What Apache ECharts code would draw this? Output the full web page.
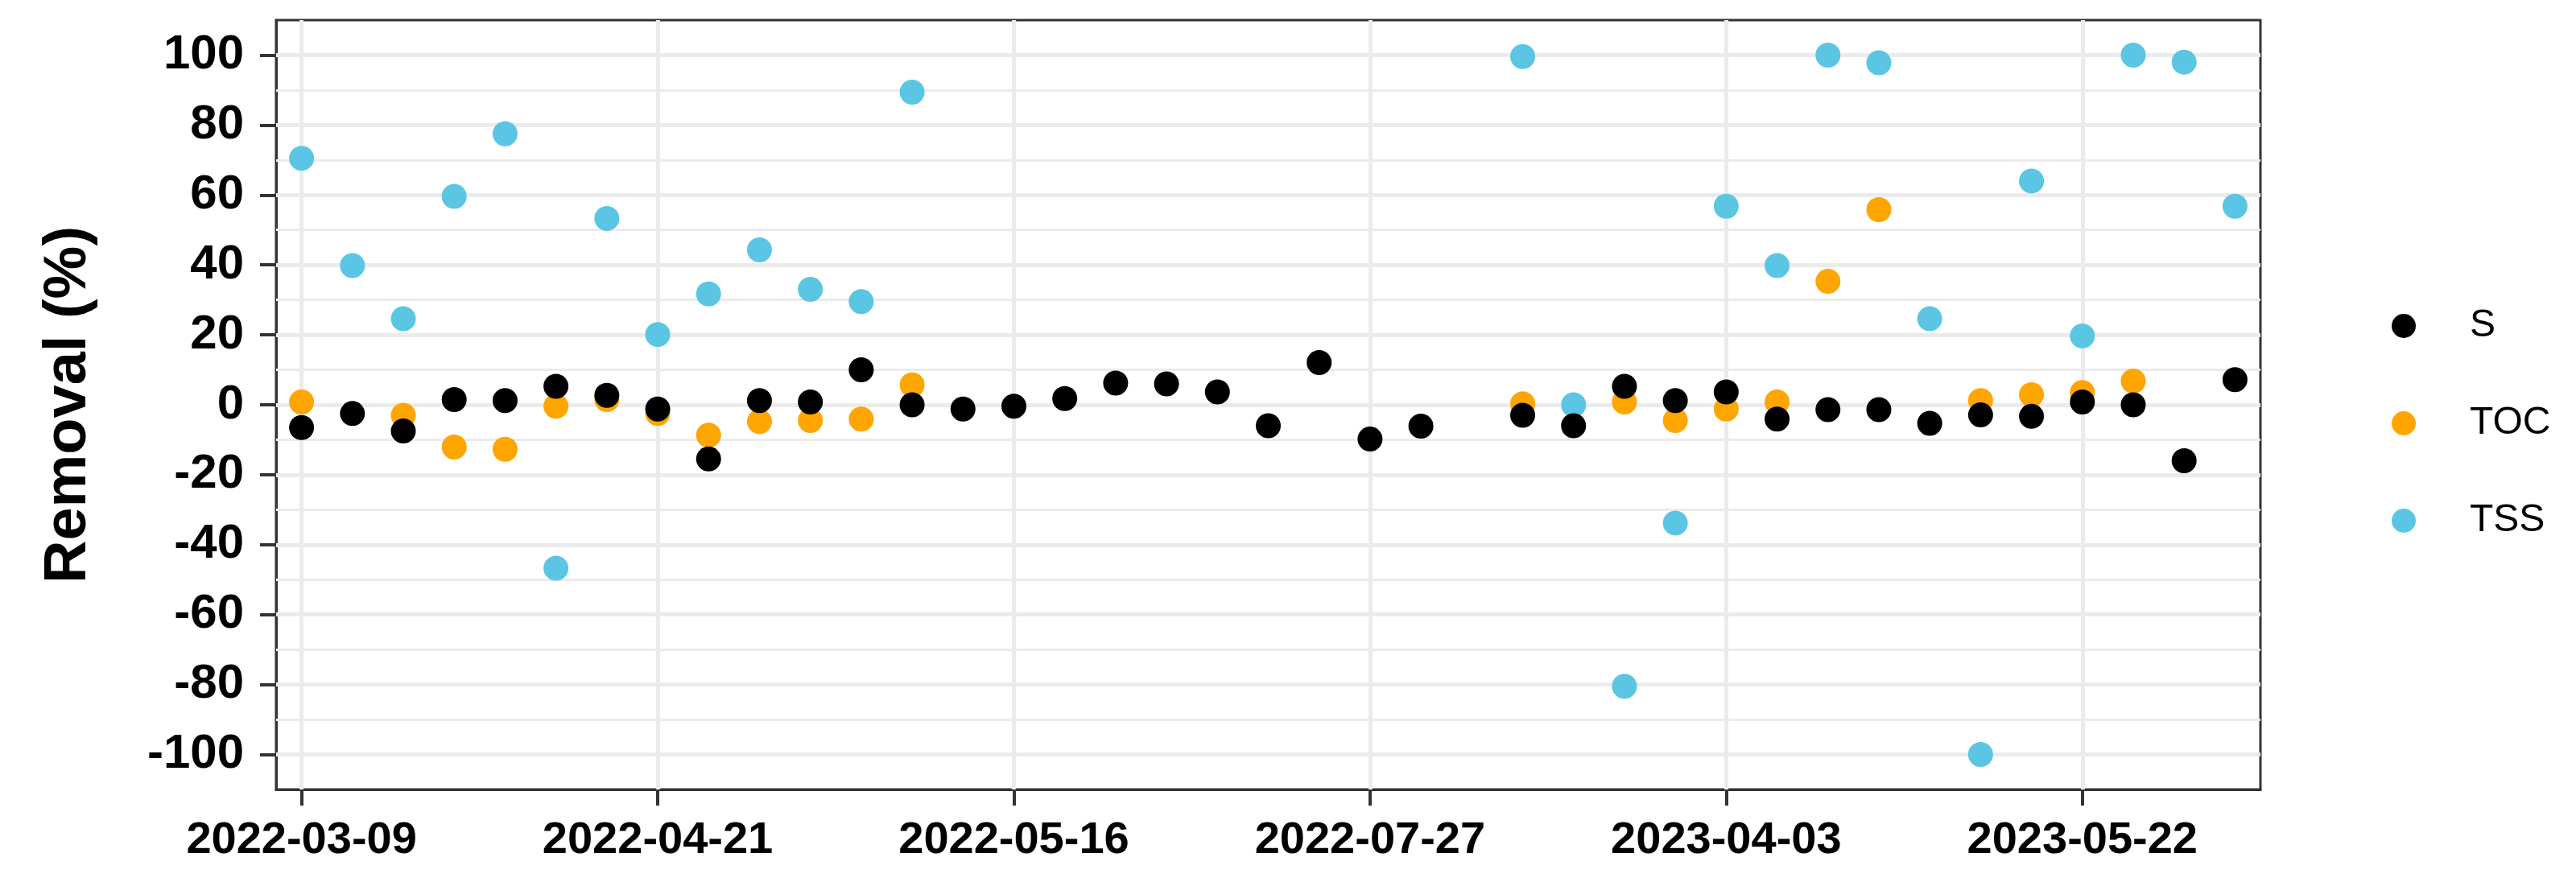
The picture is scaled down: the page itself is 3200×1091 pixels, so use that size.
<!DOCTYPE html>
<html>
<head>
<meta charset="utf-8">
<title>Removal (%)</title>
<script src="https://cdn.jsdelivr.net/npm/echarts@6/dist/echarts.min.js"></script>
<style>
  html, body { margin: 0; padding: 0; background: #fff; }
  #main { width: 3200px; height: 1091px; }
</style>
</head>
<body>
<div id="main"></div>
<script>
// sampling dates (only every 7th is printed on the axis)
var dates = [
    '2022-03-09', '2022-03-15', '2022-03-21', '2022-03-28', '2022-04-04', '2022-04-08', '2022-04-14',
    '2022-04-21', '2022-04-25', '2022-04-28', '2022-05-02', '2022-05-05', '2022-05-09', '2022-05-12',
    '2022-05-16', '2022-05-23', '2022-05-30', '2022-06-08', '2022-06-20', '2022-07-05', '2022-07-15',
    '2022-07-27', '2022-08-10', '2022-08-24', '2023-03-06', '2023-03-13', '2023-03-20', '2023-03-27',
    '2023-04-03', '2023-04-10', '2023-04-17', '2023-04-24', '2023-05-01', '2023-05-08', '2023-05-15',
    '2023-05-22', '2023-05-29', '2023-06-05', '2023-06-12'
];

// dates that get a tick label / vertical grid line
var labelDates = ['2022-03-09', '2022-04-21', '2022-05-16', '2022-07-27', '2023-04-03', '2023-05-22'];

var sValues = [
    -6.5, -2.5, -7.5, 1.5, 1.2, 5.3, 2.7,
    -1.2, -15.5, 1.2, 0.8, 10.0, 0.0, -1.2,
    -0.4, 1.8, 6.2, 6.0, 3.7, -6.0, 12.1,
    -9.8, -6.1, null, -3.0, -6.0, 5.3, 1.2,
    3.7, -4.1, -1.4, -1.4, -5.3, -2.9, -3.3,
    0.8, 0.0, -16.0, 7.2
];

var tocValues = [
    0.8, null, -3.0, -12.1, -12.7, -0.4, 1.5,
    -2.5, -8.7, -4.8, -4.5, -4.1, 5.7, null,
    null, null, null, null, null, null, null,
    null, null, null, 0.3, null, 0.8, -4.5,
    -1.2, 0.8, 35.3, 55.8, null, 1.2, 2.9,
    3.5, 6.8, null, null
];

var tssValues = [
    70.5, 39.8, 24.6, 59.6, 77.5, -46.7, 53.3,
    20.1, 31.7, 44.3, 33.0, 29.5, 89.4, null,
    null, null, null, null, null, null, null,
    null, null, null, 99.6, 0.0, -80.5, -33.8,
    56.8, 39.8, 100.0, 97.8, 24.6, -100.0, 64.0,
    19.7, 100.0, 98.0, 56.8
];

var majorTicks = [-100, -80, -60, -40, -20, 0, 20, 40, 60, 80, 100];
var minorTicks = [-90, -70, -50, -30, -10, 10, 30, 50, 70, 90];

var myChart = echarts.init(document.getElementById('main'));

// background grid drawn as mark lines so that major / minor widths differ
var gridLines = [];
minorTicks.forEach(function (v) {
    gridLines.push({ yAxis: v, lineStyle: { color: '#ebebeb', width: 3, type: 'solid' } });
});
majorTicks.forEach(function (v) {
    gridLines.push({ yAxis: v, lineStyle: { color: '#ebebeb', width: 5, type: 'solid' } });
});
labelDates.forEach(function (d) {
    gridLines.push({ xAxis: d, lineStyle: { color: '#ebebeb', width: 5, type: 'solid' } });
});

var option = {
    backgroundColor: '#ffffff',
    animation: false,
    textStyle: { fontFamily: 'Liberation Sans, Arial, sans-serif' },
    grid: {
        left: 343, top: 25, width: 2465, height: 956,
        show: true, borderColor: '#333333', borderWidth: 3, backgroundColor: '#ffffff'
    },
    legend: {
        orient: 'vertical',
        left: 2966, top: 376,
        itemWidth: 30, itemHeight: 30, itemGap: 73,
        data: ['S', 'TOC', 'TSS'],
        textStyle: { fontSize: 48, color: '#000', padding: [0, 0, 0, 62], lineHeight: 30 }
    },
    xAxis: {
        type: 'category',
        data: dates,
        boundaryGap: true,
        axisLine: { show: true, onZero: false, lineStyle: { color: '#333333', width: 3 } },
        axisTick: { show: true, interval: 6, alignWithLabel: true, length: 20, lineStyle: { color: '#333333', width: 4 } },
        axisLabel: { interval: 6, fontSize: 56, fontWeight: 'bold', color: '#000', margin: 36 },
        splitLine: { show: false }
    },
    yAxis: {
        type: 'value',
        min: -110, max: 110, interval: 10,
        name: 'Removal (%)',
        nameLocation: 'middle',
        nameRotate: 90,
        nameGap: 220,
        nameTextStyle: { fontSize: 74, fontWeight: 'bold', color: '#000' },
        axisLine: { show: true, onZero: false, lineStyle: { color: '#333333', width: 3 } },
        axisTick: { show: true, length: 20, customValues: majorTicks, lineStyle: { color: '#333333', width: 4 } },
        axisLabel: {
            customValues: majorTicks,
            fontSize: 60, fontWeight: 'bold', color: '#000', margin: 40,
            formatter: function (v) { return v % 20 === 0 ? String(v) : ''; }
        },
        splitLine: { show: false }
    },
    series: [
        {
            name: 'grid',
            type: 'scatter',
            data: [],
            z: 1,
            silent: true,
            markLine: {
                z: 1,
                silent: true,
                symbol: ['none', 'none'],
                label: { show: false },
                data: gridLines
            }
        },
        {
            name: 'TSS', type: 'scatter', data: tssValues, symbol: 'circle', symbolSize: 31,
            itemStyle: { color: '#5bc5e4', opacity: 1 }, z: 3
        },
        {
            name: 'TOC', type: 'scatter', data: tocValues, symbol: 'circle', symbolSize: 31,
            itemStyle: { color: '#ffa500', opacity: 1 }, z: 4
        },
        {
            name: 'S', type: 'scatter', data: sValues, symbol: 'circle', symbolSize: 31,
            itemStyle: { color: '#000000', opacity: 1 }, z: 5
        }
    ]
};

myChart.setOption(option);
</script>
</body>
</html>
